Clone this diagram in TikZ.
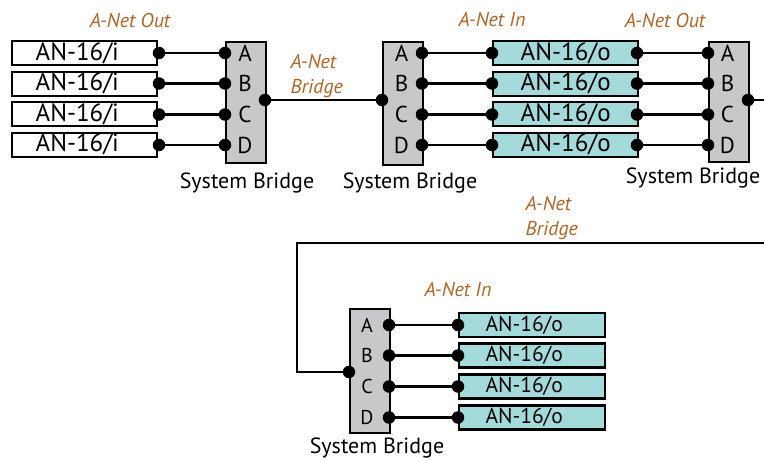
\documentclass[tikz,border=0pt]{standalone}
\usepackage{fontspec}
\setmainfont{PT Sans}
\definecolor{netorange}{RGB}{180,100,30}
\definecolor{teal16}{RGB}{163,219,219}
\definecolor{bridgegray}{RGB}{200,200,202}
\begin{document}
\begin{tikzpicture}[x=1pt,y=-1pt,
  box/.style={draw=black,line width=2.4pt,minimum width=145pt,minimum height=24pt,inner sep=0pt},
  ibox/.style={box,fill=white,font=\fontsize{25}{25}\selectfont},
  obox/.style={box,fill=teal16,font=\fontsize{25}{25}\selectfont},
  sobox/.style={box,fill=teal16,minimum width=146pt,font=\fontsize{21.5}{21.5}\selectfont},
  bridgebox/.style={draw=black,line width=2.4pt,fill=bridgegray,minimum width=40pt,inner sep=0pt},
  dot/.style={circle,fill=black,inner sep=0pt,minimum size=12.5pt},
  wire/.style={line width=2.2pt},
  letter/.style={font=\fontsize{23}{23}\selectfont},
  sletter/.style={font=\fontsize{20}{20}\selectfont},
  netlbl/.style={text=netorange,font=\fontsize{20}{25}\selectfont\itshape},
  sblbl/.style={font=\fontsize{22}{22}\selectfont}
]
\useasboundingbox (0,0) rectangle (764,461);

% ---------- top-left group ----------
\foreach \i/\y in {1/53.25,2/83.75,3/114.25,4/144.75}{
  \node[ibox,anchor=east] (li\i) at (158,\y) {\hspace*{-14pt}AN-16/i};
}
\node[bridgebox,minimum height=121pt,anchor=north west] (b1) at (225,41) {};
\foreach \i/\y/\l in {1/53/A,2/83.5/B,3/114.5/C,4/145/D}{
  \node[letter] (b1l\i) at (245,\y) {\l};
  \node[dot] (lio\i) at (159,\y) {};
  \node[dot] (b1i\i) at (225,\y) {};
  \draw[wire] (lio\i) -- (b1i\i);
}
\node[dot] (b1o) at (265,100) {};
\node[netlbl] (lblout1) at (130,20) {A-Net Out};
\node[netlbl,align=left,anchor=west] (lblbr1) at (287,76.5) {A-Net\\Bridge};
\node[sblbl] (sb1) at (247,183) {System Bridge};

% ---------- top-middle group ----------
\node[bridgebox,minimum height=123pt,anchor=north west] (b2) at (382,41) {};
\node[dot] (b2in) at (382,100) {};
\draw[wire] (b1o) -- (b2in);
\foreach \i/\y in {1/53.25,2/83.75,3/114.25,4/144.75}{
  \node[obox,anchor=west] (mo\i) at (492,\y) {AN-16/o};
}
\node[bridgebox,minimum height=120pt,anchor=north west] (b3) at (708,41) {};
\foreach \i/\y/\l in {1/53/A,2/83.5/B,3/114.5/C,4/145/D}{
  \node[letter] (b2l\i) at (401.5,\y) {\l};
  \node[letter] (b3l\i) at (727.5,\y) {\l};
  \node[dot] (b2o\i) at (422,\y) {};
  \node[dot] (moi\i) at (492,\y) {};
  \node[dot] (moo\i) at (637,\y) {};
  \node[dot] (b3i\i) at (708,\y) {};
  \draw[wire] (b2o\i) -- (moi\i);
  \draw[wire] (moo\i) -- (b3i\i);
}
\node[dot] (b3o) at (748,100) {};
\coordinate (edge1) at (766,100);
\draw[wire] (b3o) -- (edge1);
\node[netlbl] (lblin1) at (492,20) {A-Net In};
\node[netlbl] (lblout2) at (665,20) {A-Net Out};
\node[sblbl] (sb2) at (410,183) {System Bridge};
\node[sblbl] (sb3) at (693,178) {System Bridge};

% ---------- bottom group ----------
\node[bridgebox,minimum height=124pt,anchor=north west] (b4) at (349,308) {};
\node[dot] (b4in) at (349,372) {};
\coordinate (edge2) at (766,243);
\coordinate (turn1) at (297,243);
\coordinate (turn2) at (297,372);
\draw[wire] (edge2) -- (turn1) -- (turn2) -- (b4in);
\foreach \i/\y/\l in {1/325/A,2/355.5/B,3/386.5/C,4/417.5/D}{
  \node[sobox,anchor=west] (bo\i) at (458,\y) {\hspace*{-16pt}AN-16/o};
  \node[sletter] (b4l\i) at (367,\y) {\l};
  \node[dot] (b4o\i) at (389,\y) {};
  \node[dot] (boi\i) at (458,\y) {};
  \draw[wire] (b4o\i) -- (boi\i);
}
\node[netlbl,align=left,anchor=west] (lblbr2) at (522,218.5) {A-Net\\Bridge};
\node[netlbl] (lblin2) at (458,290) {A-Net In};
\node[sblbl] (sb4) at (377,448) {System Bridge};
\end{tikzpicture}
\end{document}
